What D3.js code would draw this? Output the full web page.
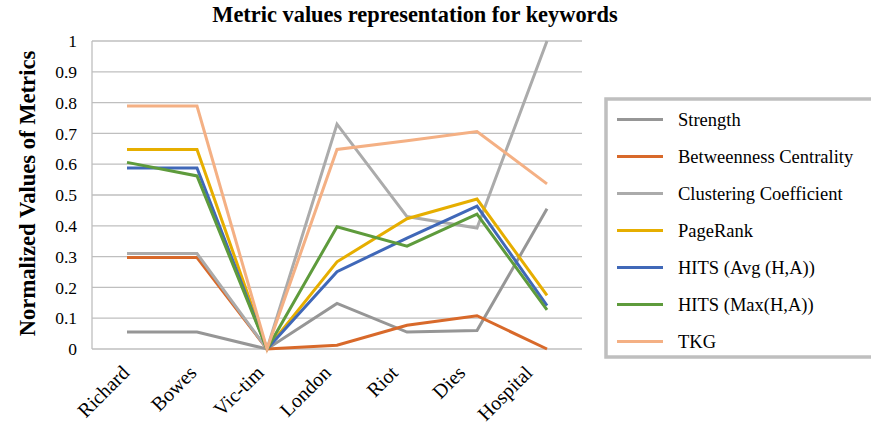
<!DOCTYPE html>
<html><head><meta charset="utf-8">
<script src="https://cdn.jsdelivr.net/npm/d3@7"></script>
<style>body{margin:0;background:#fff}svg{display:block}</style>
</head><body><svg id="c" width="871" height="425"></svg>
<script>
const categories = ["Richard","Bowes","Vic-tim","London","Riot","Dies","Hospital"];
const seriesNames = ["Strength","Betweenness Centrality","Clustering Coefficient","PageRank","HITS (Avg (H,A))","HITS (Max(H,A))","TKG"];
const strength = [0.055,0.055,0,0.148,0.055,0.06,0.455];
const betweenness = [0.297,0.297,0,0.012,0.077,0.108,0];
const clustering = [0.31,0.31,0,0.73,0.43,0.393,1.0];
const pagerank = [0.648,0.648,0,0.283,0.423,0.487,0.174];
const hitsAvg = [0.588,0.588,0,0.251,0.36,0.464,0.141];
const hitsMax = [0.606,0.562,0,0.397,0.334,0.438,0.127];
const tkg = [0.789,0.789,0,0.648,0.676,0.706,0.536];
const yTicks = [0,0.1,0.2,0.3,0.4,0.5,0.6,0.7,0.8,0.9,1];
const colors = ["#969696","#D8692A","#ABABAB","#E6AE00","#4068B8","#5E9B3C","#F4B084"];
const allSeries = [strength,betweenness,clustering,pagerank,hitsAvg,hitsMax,tkg];

const svg = d3.select("#c");
const L=92,R=582,T=41,B=349;
const x = d3.scalePoint().domain(categories).range([L,R]).padding(0.5);
const y = d3.scaleLinear().domain([0,1]).range([B,T]);
const serif = "'Liberation Serif','Times New Roman',serif";

// gridlines
svg.append("g").selectAll("line").data(yTicks).join("line")
  .attr("x1",L).attr("x2",R).attr("y1",d=>y(d)).attr("y2",d=>y(d))
  .attr("stroke","#BFBFBF").attr("stroke-width",1.3);
svg.append("line").attr("x1",L).attr("x2",L).attr("y1",T).attr("y2",B).attr("stroke","#BFBFBF").attr("stroke-width",1.3);

// y axis labels
const yAxis = d3.axisLeft(y).tickValues(yTicks).tickSize(0).tickPadding(15).tickFormat(d=>d3.format("~g")(d));
const ya = svg.append("g").attr("transform",`translate(${L},0)`).call(yAxis);
ya.select(".domain").remove();
ya.selectAll("text").attr("font-family",serif).attr("font-size",17.5).attr("fill","#000");

// x axis labels
const xAxis = d3.axisBottom(x).tickSize(0).tickPadding(0);
const xa = svg.append("g").attr("transform",`translate(0,${B})`).call(xAxis);
xa.select(".domain").remove();
xa.selectAll("text").attr("font-family",serif).attr("font-size",20).attr("fill","#000")
  .attr("text-anchor","end").attr("dy",0).attr("y",0)
  .attr("transform",(d,i)=>`translate(${3-2.8*i},25) rotate(-45)`);

// lines
const line = d3.line().x((d,i)=>x(categories[i])).y(d=>y(d));
svg.append("g").selectAll("path").data(allSeries).join("path")
  .attr("d",d=>line(d)).attr("fill","none")
  .attr("stroke",(d,i)=>colors[i]).attr("stroke-width",3).attr("stroke-linejoin","miter");

// title
svg.append("text").attr("x",415).attr("y",22).attr("text-anchor","middle")
  .attr("font-family",serif).attr("font-weight","bold").attr("font-size",22.4).text("Metric values representation for keywords");
svg.append("text").attr("transform","translate(35,193.5) rotate(-90)").attr("text-anchor","middle")
  .attr("font-family",serif).attr("font-weight","bold").attr("font-size",22.6).text("Normalized Values of Metrics");

// legend
const lg = svg.append("g");
lg.append("rect").attr("x",606).attr("y",99).attr("width",280).attr("height",258)
  .attr("fill","#fff").attr("stroke","#BFBFBF").attr("stroke-width",3.5);
const items = lg.selectAll("g.it").data(seriesNames).join("g").attr("class","it")
  .attr("transform",(d,i)=>`translate(0,${119.5+i*37})`);
items.append("line").attr("x1",617).attr("x2",663).attr("y1",0).attr("y2",0)
  .attr("stroke",(d,i)=>colors[i]).attr("stroke-width",3);
items.append("text").attr("x",678).attr("y",0).attr("dy","0.35em")
  .attr("font-family",serif).attr("font-size",18.5).text(d=>d);
</script></body></html>
